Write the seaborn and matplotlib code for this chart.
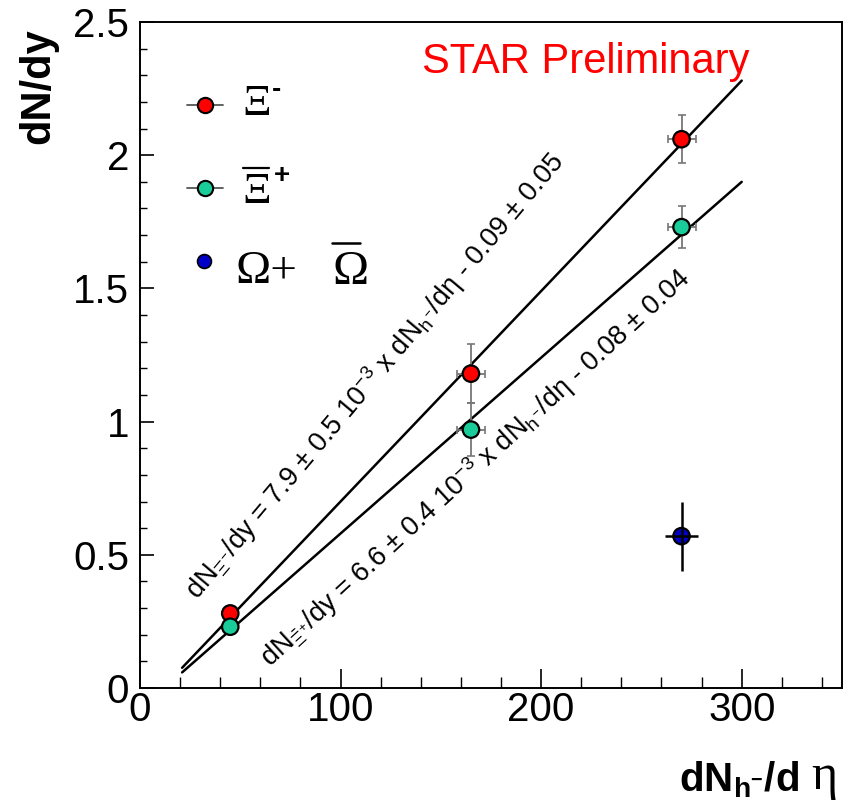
import numpy as np
import pandas as pd
import matplotlib
matplotlib.use("Agg")
import matplotlib.pyplot as plt
from matplotlib.lines import Line2D
import seaborn as sns
from matplotlib.ticker import MultipleLocator

# ---- data ----
species = ["Xi-", "Xi-", "Xi-", "Xi+", "Xi+", "Xi+", "Omega"]
dnh_deta = [45, 165, 270, 45, 165, 270, 270]
dndy = [0.28, 1.18, 2.06, 0.23, 0.97, 1.73, 0.57]
x_err = [3, 7, 7, 3, 7, 7, 8]
y_err = [0.02, 0.11, 0.09, 0.02, 0.10, 0.08, 0.13]
colors = {"Xi-": "#ff0000", "Xi+": "#1acc99", "Omega": "#0000c8"}

fit_slopes = [7.9e-3, 6.6e-3]
fit_intercepts = [-0.09, -0.08]
fit_xrange = [21, 300]

df = pd.DataFrame({"species": species, "x": dnh_deta, "y": dndy,
                   "xerr": x_err, "yerr": y_err})

sns.set_style("ticks")
plt.rcParams["font.family"] = ["Liberation Sans", "DejaVu Sans"]
plt.rcParams["mathtext.fontset"] = "custom"
plt.rcParams["mathtext.rm"] = "Liberation Sans"
plt.rcParams["mathtext.it"] = "Liberation Sans"
plt.rcParams["mathtext.bf"] = "Liberation Sans:bold"
for k in ["text.color", "axes.labelcolor", "xtick.color", "ytick.color", "axes.edgecolor"]:
    plt.rcParams[k] = "black"

fig = plt.figure(figsize=(8.53, 8.08), dpi=100)
ax = fig.add_axes([140 / 853, 1 - 688 / 808, (842 - 140) / 853, (688 - 22) / 808])

# fit lines
xf = np.array(fit_xrange, dtype=float)
for s, b in zip(fit_slopes, fit_intercepts):
    sns.lineplot(x=xf, y=s * xf + b, ax=ax, color="black", lw=1.8)

# error bars
for _, r in df.iterrows():
    om = r.species == "Omega"
    ax.errorbar(r.x, r.y, xerr=r.xerr, yerr=r.yerr, fmt="none",
                ecolor="black" if om else "#777777",
                elinewidth=1.8 if om else 1.3, capsize=0 if om else 3,
                capthick=1.2, zorder=6 if om else 3)

sns.scatterplot(data=df, x="x", y="y", hue="species", palette=colors, ax=ax,
                s=140, edgecolor="black", linewidth=1.6, zorder=5, legend=False)

ax.set_xlim(0, 350)
ax.set_ylim(0, 2.5)
ax.xaxis.set_minor_locator(MultipleLocator(20))
ax.yaxis.set_minor_locator(MultipleLocator(0.1))
ax.set_xticks([0, 100, 200, 300])
ax.set_xticklabels(["0", "100", "200", "300"])
ax.set_yticks([0, 0.5, 1, 1.5, 2, 2.5])
ax.set_yticklabels(["0", "0.5", "1", "1.5", "2", "2.5"])
ax.tick_params(which="both", direction="in", top=False, right=False)
ax.tick_params(axis="x", which="major", length=14, width=1.2, labelsize=29, pad=2)
ax.tick_params(axis="x", which="minor", length=8, width=1.0)
ax.tick_params(axis="y", which="major", length=10, width=1.2, labelsize=29, pad=8)
ax.tick_params(axis="y", which="minor", length=5, width=1.0)
for sp in ax.spines.values():
    sp.set_linewidth(1.4)
ax.set_xlabel("")
ax.set_ylabel("")

# axis titles
fig.text(38 / 853, 1 - 86 / 808, "dN/dy", rotation=90, fontsize=30, fontweight="bold",
         ha="center", va="center")
fig.text(799 / 853, 1 - 780 / 808, r"$\mathbf{dN_{h^{-}}/d}$", fontsize=29,
         ha="right", va="center")
fig.text(811 / 853, 1 - 777 / 808, "η", fontsize=36, family="Liberation Serif",
         ha="left", va="center")

# STAR Preliminary
ax.text(0.635, 0.94, "STAR Preliminary", transform=ax.transAxes, color="#ff0000",
        fontsize=30, ha="center", va="center")

# fit annotations
ax.text(0.334, 0.468,
        r"dN$_{\Xi^{-}}$/dy = 7.9 $\pm$ 0.5 10$^{-3}$ x dN$_{h^{-}}$/d$\eta$ - 0.09 $\pm$ 0.05",
        transform=ax.transAxes, rotation=50, fontsize=19.5, ha="center", va="center",
        rotation_mode="anchor")
ax.text(0.478, 0.33,
        r"dN$_{\bar{\Xi}^{+}}$/dy = 6.6 $\pm$ 0.4 10$^{-3}$ x dN$_{h^{-}}$/d$\eta$ - 0.08 $\pm$ 0.04",
        transform=ax.transAxes, rotation=42.6, fontsize=19.5, ha="center", va="center",
        rotation_mode="anchor")

# legend (manual)
leg_y = [1 - (105 - 22) / 666, 1 - (188 - 22) / 666, 1 - (261 - 22) / 666]
leg_x = (205 - 140) / 702
for yy, key in zip(leg_y[:2], ["Xi-", "Xi+"]):
    ax.plot([leg_x - 0.025, leg_x + 0.025], [yy, yy], color="#555555", lw=1.3,
            transform=ax.transAxes, zorder=4)
    ax.plot([leg_x], [yy], "o", ms=11, mfc=colors[key], mec="black", mew=1.5,
            transform=ax.transAxes, zorder=5)
ax.plot([leg_x - 0.002], [leg_y[2]], "o", ms=10, mfc=colors["Omega"], mec="black",
        mew=1.2, transform=ax.transAxes, zorder=5)

serif = ["Liberation Serif", "DejaVu Serif"]
fig.text(242 / 853, 1 - 104 / 808, "Ξ", fontsize=32, family=serif, ha="left", va="center")
fig.text(272 / 853, 1 - 90 / 808, "-", fontsize=20, fontweight="bold", ha="left", va="center")
fig.text(242 / 853, 1 - 192 / 808, "Ξ", fontsize=32, family=serif, ha="left", va="center")
fig.text(274 / 853, 1 - 176 / 808, "+", fontsize=20, fontweight="bold", ha="left", va="center")
fig.add_artist(Line2D([243 / 853, 269 / 853], [1 - 168 / 808, 1 - 168 / 808],
                      color="black", lw=1.6, transform=fig.transFigure))

fig.text(236 / 853, 1 - 272 / 808, "Ω+", fontsize=34, family=serif, ha="left", va="center")
fig.text(333 / 853, 1 - 272 / 808, "Ω", fontsize=35, family=serif, ha="left", va="center")
fig.add_artist(Line2D([332 / 853, 360 / 853], [1 - 243 / 808, 1 - 243 / 808],
                      color="black", lw=1.8, transform=fig.transFigure))

fig.savefig("out.png", dpi=100)
